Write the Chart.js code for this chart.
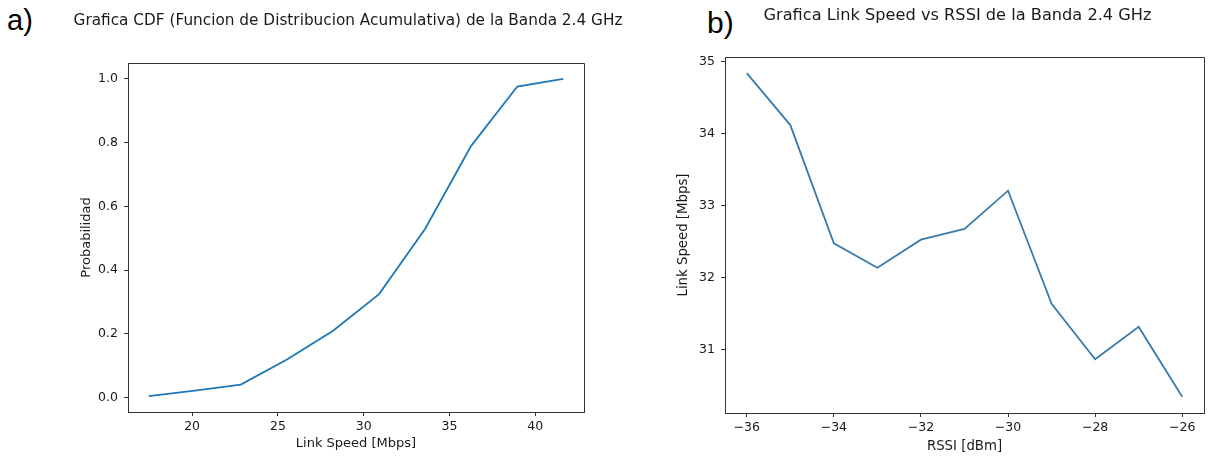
<!DOCTYPE html>
<html><head><meta charset="utf-8">
<script src="https://cdn.jsdelivr.net/npm/chart.js@4.4.1/dist/chart.umd.min.js"></script>
<style>
html,body{margin:0;padding:0;background:#fff;width:1208px;height:458px;overflow:hidden;position:relative}
.w{position:absolute;top:0;height:458px}
#w1{left:0;width:650px}
#w2{left:604px;width:604px}
.lab{position:absolute;font-family:'Liberation Sans',Arial,sans-serif;color:#000;line-height:1}
</style></head><body>
<div class="lab" style="left:7px;top:6px;font-size:29px">a)</div>
<div class="lab" style="left:707px;top:8px;font-size:30px">b)</div>
<div class="w" id="w1"><canvas id="c1" width="650" height="458"></canvas></div>
<div class="w" id="w2"><canvas id="c2" width="604" height="458"></canvas></div>
<script>
// ---- Data: chart a) CDF ----
const cdfSpeed = [17.47, 20.16, 22.84, 25.53, 28.22, 30.90, 33.59, 36.27, 38.96, 41.64];
const cdfProb  = [0.005, 0.022, 0.041, 0.120, 0.210, 0.325, 0.530, 0.790, 0.976, 1.000];
const cdfXTicks = [20, 25, 30, 35, 40];
const cdfXTickLabels = ['20', '25', '30', '35', '40'];
const cdfYTicks = [0.0, 0.2, 0.4, 0.6, 0.8, 1.0];
const cdfYTickLabels = ['0.0', '0.2', '0.4', '0.6', '0.8', '1.0'];

// ---- Data: chart b) Link speed vs RSSI ----
const rssi  = [-36, -35, -34, -33, -32, -31, -30, -29, -28, -27, -26];
const speed = [34.84, 34.12, 32.48, 32.14, 32.53, 32.68, 33.21, 31.64, 30.87, 31.32, 30.35];
const rssiXTicks = [-36, -34, -32, -30, -28, -26];
const rssiXTickLabels = ['\u221236', '\u221234', '\u221232', '\u221230', '\u221228', '\u221226'];
const rssiYTicks = [31, 32, 33, 34, 35];
const rssiYTickLabels = ['31', '32', '33', '34', '35'];

const TXT = '#1a1a1a';
const AX = '#333333';
const FONT = "'DejaVu Sans', sans-serif";

function padRange(arr) {
  const mn = Math.min(...arr), mx = Math.max(...arr), m = (mx - mn) * 0.05;
  return [mn - m, mx + m];
}

// top and right spines (left/bottom come from the axis borders)
const framePlugin = {
  id: 'frame',
  afterDatasetsDraw(chart) {
    const {ctx, chartArea: a} = chart;
    const t = Math.round(a.top) + 0.5, r = Math.round(a.right) + 0.5;
    ctx.save();
    ctx.strokeStyle = AX; ctx.lineWidth = 1;
    ctx.beginPath();
    ctx.moveTo(Math.round(a.left), t);
    ctx.lineTo(r, t);
    ctx.lineTo(r, Math.round(a.bottom) + 1);
    ctx.stroke();
    ctx.restore();
  }
};

// Axes title drawn centred above the plot box (matplotlib-style), without width squeezing
const axesTitlePlugin = {
  id: 'axesTitle',
  afterDraw(chart, args, opts) {
    if (!opts || !opts.text) return;
    const {ctx, chartArea: a} = chart;
    ctx.save();
    ctx.font = opts.size + 'px ' + FONT;
    ctx.fillStyle = TXT;
    ctx.textAlign = 'center';
    ctx.textBaseline = 'middle';
    ctx.fillText(opts.text, (a.left + a.right) / 2 + (opts.dx || 0), opts.y);
    ctx.restore();
  }
};

function makeChart(id, cfg) {
  const [xmin, xmax] = padRange(cfg.xs);
  const [ymin, ymax] = padRange(cfg.ys);
  const tickFont = {family: FONT, size: cfg.tickSize};
  const labFont = {family: FONT, size: cfg.labelSize, lineHeight: 1.2};
  return new Chart(document.getElementById(id), {
    type: 'line',
    data: {
      datasets: [{
        data: cfg.xs.map((x, i) => ({x: x, y: cfg.ys[i]})),
        borderColor: cfg.color, borderWidth: 1.8, pointRadius: 0, tension: 0, fill: false
      }]
    },
    options: {
      responsive: false, animation: false, devicePixelRatio: 1,
      layout: {padding: {left: cfg.padLeft, right: cfg.padRight, top: cfg.padTop, bottom: 0}},
      plugins: {
        legend: {display: false}, tooltip: {enabled: false}, title: {display: false},
        axesTitle: {text: cfg.title, size: cfg.titleSize, y: cfg.titleY, dx: cfg.titleDx}
      },
      scales: {
        x: {
          type: 'linear', min: xmin, max: xmax,
          afterBuildTicks: s => { s.ticks = cfg.xTicks.map(v => ({value: v})); },
          afterFit: s => { s.height = cfg.xAxisH; },
          ticks: {font: tickFont, color: TXT, padding: 3, maxRotation: 0, autoSkip: false,
                  callback: (v, i) => cfg.xTickLabels[i]},
          grid: {display: true, drawOnChartArea: false, drawTicks: true, tickLength: 4, color: AX, lineWidth: 1},
          border: {display: true, color: AX, width: 1},
          title: {display: true, text: cfg.xTitle, color: TXT, font: labFont,
                  padding: {top: 0, bottom: cfg.xTitleBottom}}
        },
        y: {
          type: 'linear', min: ymin, max: ymax,
          afterBuildTicks: s => { s.ticks = cfg.yTicks.map(v => ({value: v})); },
          afterFit: s => { s.width = cfg.yAxisW; },
          ticks: {font: tickFont, color: TXT, padding: 6, autoSkip: false,
                  callback: (v, i) => cfg.yTickLabels[i]},
          grid: {display: true, drawOnChartArea: false, drawTicks: true, tickLength: 4, color: AX, lineWidth: 1},
          border: {display: true, color: AX, width: 1},
          title: {display: true, text: cfg.yTitle, color: TXT, font: labFont,
                  padding: {top: 0, bottom: 0}}
        }
      }
    },
    plugins: [framePlugin, axesTitlePlugin]
  });
}

makeChart('c1', {
  xs: cdfSpeed, ys: cdfProb, color: '#1f77b4',
  xTicks: cdfXTicks, xTickLabels: cdfXTickLabels, yTicks: cdfYTicks, yTickLabels: cdfYTickLabels,
  title: 'Grafica CDF (Funcion de Distribucion Acumulativa) de la Banda 2.4 GHz',
  titleSize: 15.3, titleY: 21, titleDx: -8, padTop: 63,
  tickSize: 12.5, labelSize: 13,
  xTitle: 'Link Speed [Mbps]', yTitle: 'Probabilidad',
  padLeft: 79, padRight: 66, yAxisW: 49, xAxisH: 46, xTitleBottom: 6.5
});

makeChart('c2', {
  xs: rssi, ys: speed, color: '#3b7bab',
  xTicks: rssiXTicks, xTickLabels: rssiXTickLabels, yTicks: rssiYTicks, yTickLabels: rssiYTickLabels,
  title: 'Grafica Link Speed vs RSSI de la Banda 2.4 GHz',
  titleSize: 16.2, titleY: 16, titleDx: -7, padTop: 57,
  tickSize: 12.5, labelSize: 13.3,
  xTitle: 'RSSI [dBm]', yTitle: 'Link Speed [Mbps]',
  padLeft: 72, padRight: 4, yAxisW: 49, xAxisH: 45, xTitleBottom: 3.5
});
</script>
</body></html>
